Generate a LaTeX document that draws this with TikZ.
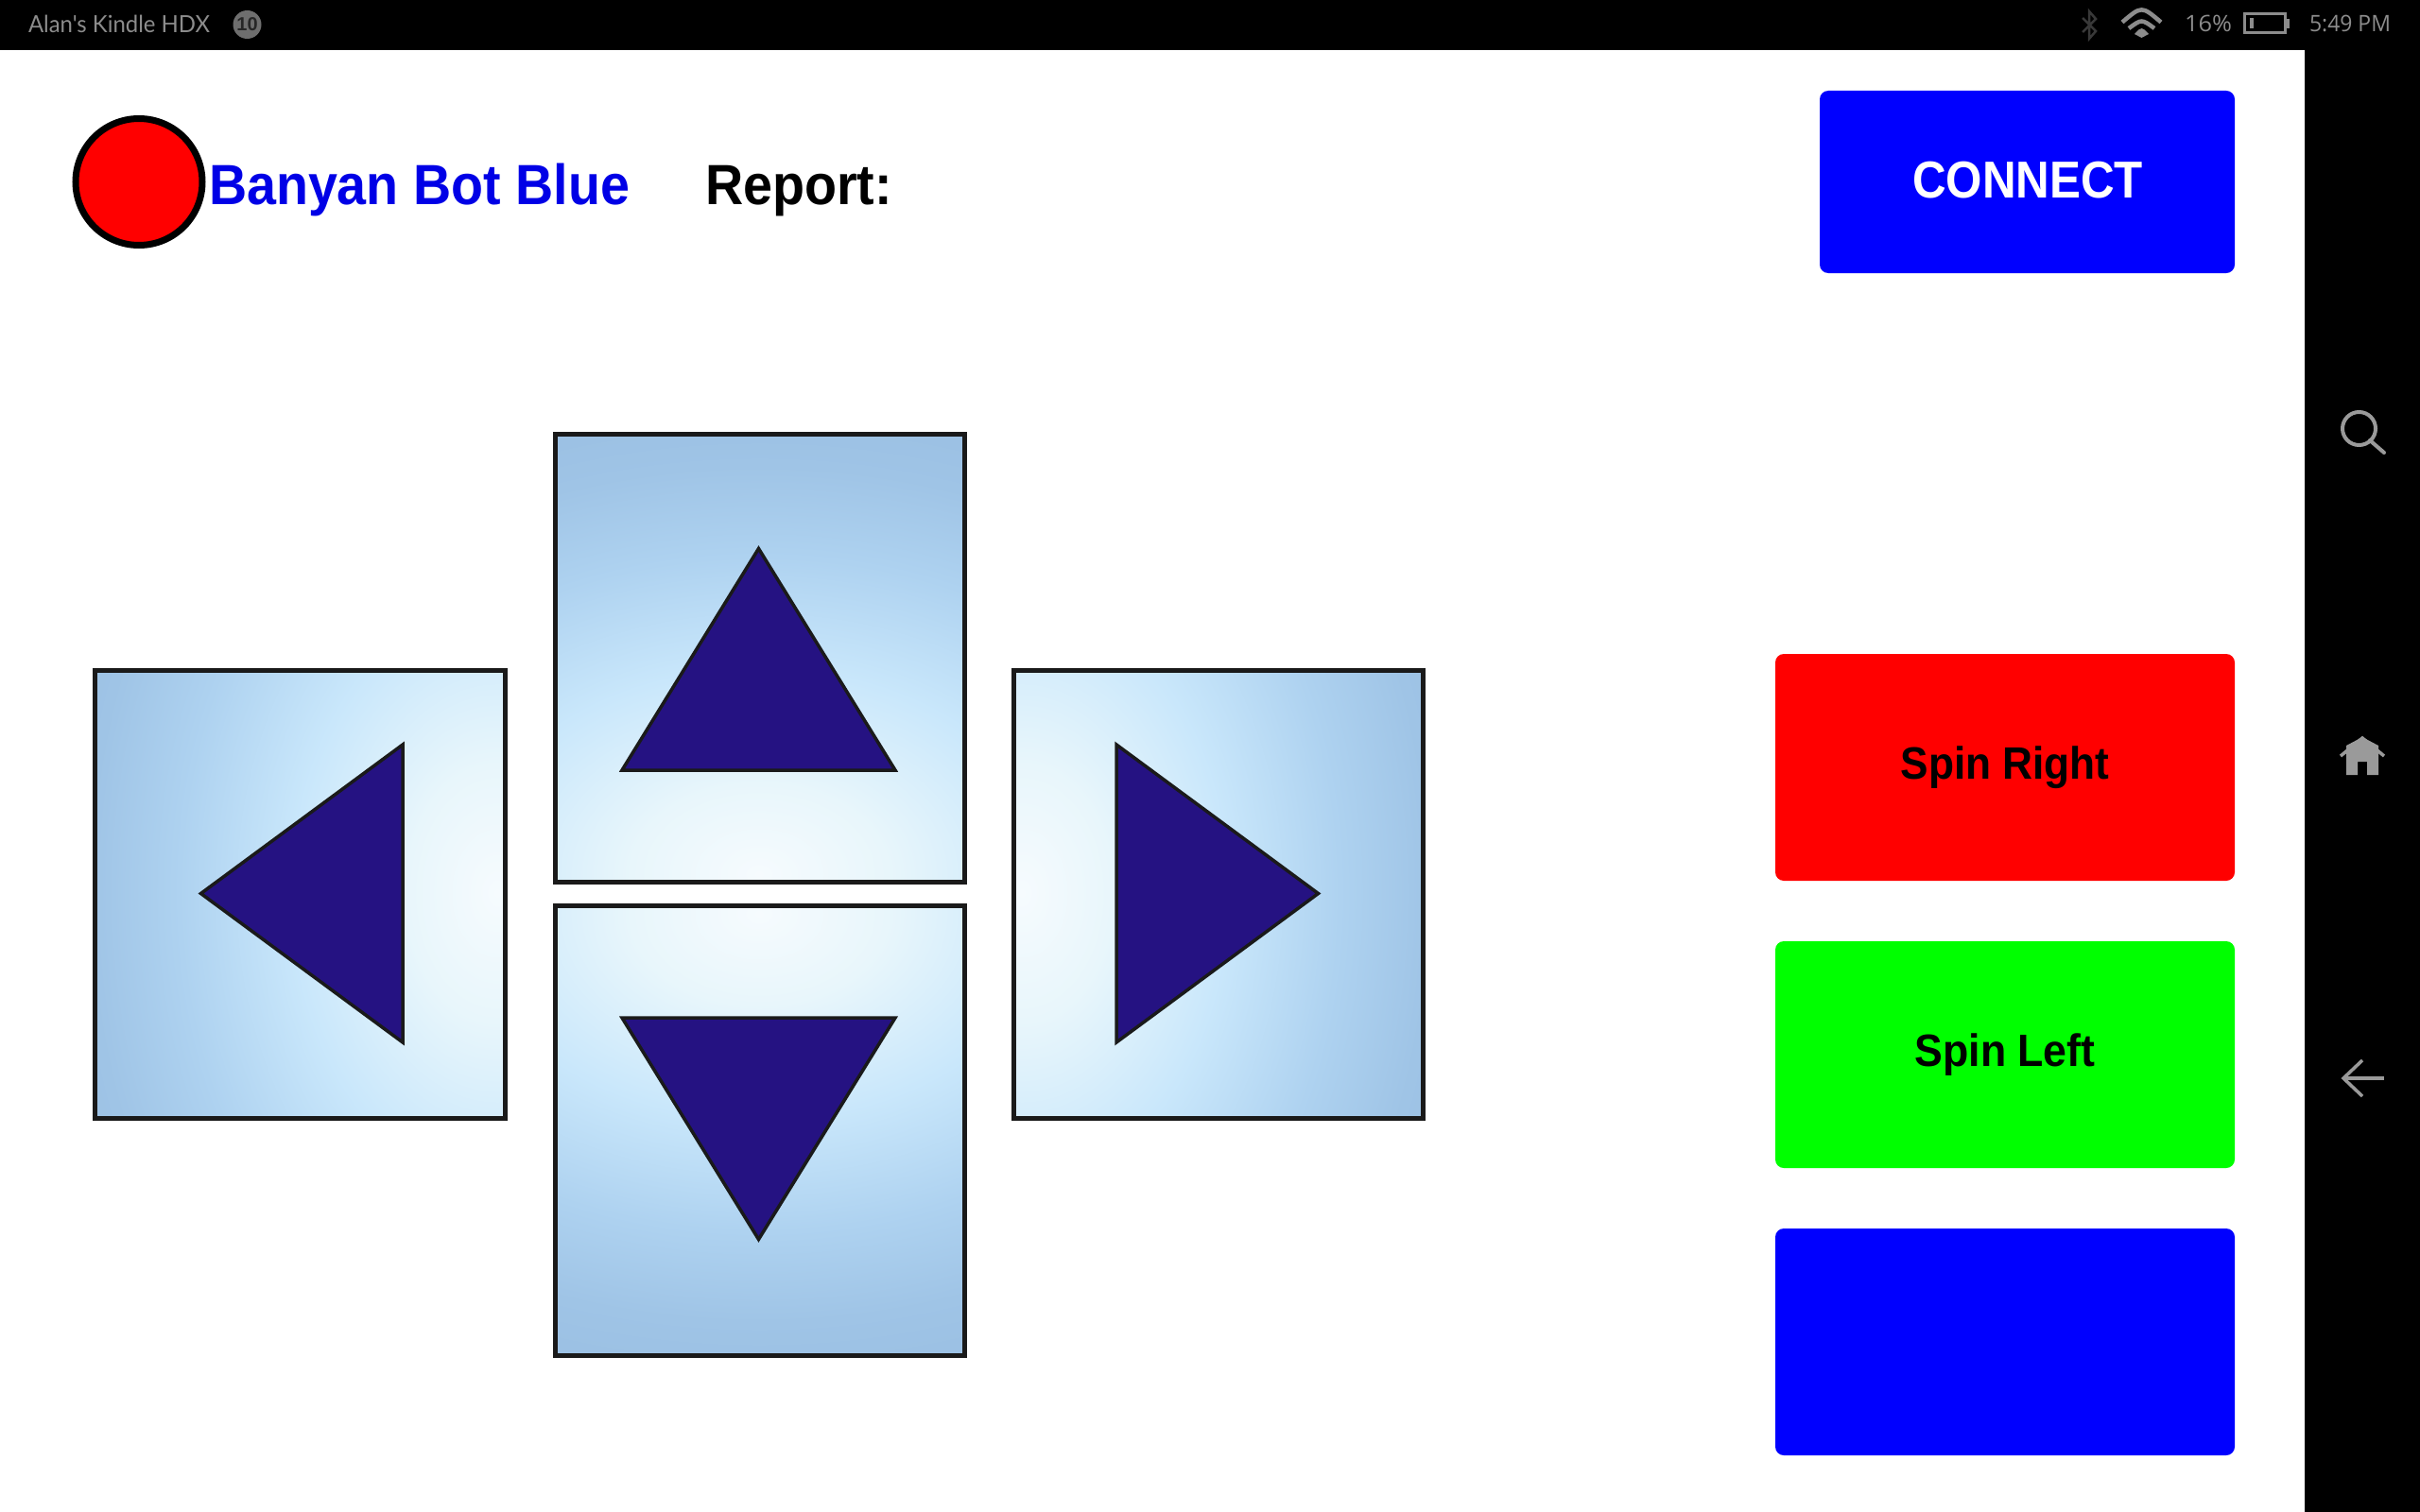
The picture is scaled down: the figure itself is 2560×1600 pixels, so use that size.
\documentclass[tikz,border=0pt]{standalone}
\usepackage{graphicx}
\usepackage{fontspec}
\setmainfont{Liberation Sans}
\newfontfamily\statusfont{Lato}
\newfontfamily\clockfont{Open Sans}
\definecolor{tri}{HTML}{251282}
\definecolor{frame}{HTML}{1A1A1A}
\definecolor{icon}{HTML}{9A9A9A}
\definecolor{stat}{HTML}{8C8C8C}
\definecolor{tb}{HTML}{9CC1E4}
\definecolor{ga}{HTML}{F6FBFE}
\definecolor{gb}{HTML}{E8F6FB}
\definecolor{gc}{HTML}{C9E7FB}
\definecolor{gd}{HTML}{AED2F0}
\definecolor{ge}{HTML}{9FC4E6}
\pgfdeclareradialshading{glow}{\pgfpoint{0bp}{0bp}}{%
 color(0bp)=(ga);
 color(5bp)=(gb);
 color(11.25bp)=(gc);
 color(17.5bp)=(gd);
 color(22.5bp)=(ge);
 color(25bp)=(tb);
 color(50bp)=(tb)}
\newcommand{\fitw}[2]{\resizebox{#1pt}{\height}{#2}}
\tikzset{
 x=1pt,y=-1pt,
 tileframe/.style={draw=frame,line width=5pt},
 trianglemark/.style={draw=frame,line width=3.5pt,fill=tri,line join=miter},
 btn/.style={rounded corners=9pt},
 lab/.style={inner sep=0pt,outer sep=0pt,font=\fontsize{60pt}{60pt}\selectfont\bfseries,anchor=base west},
 stattext/.style={inner sep=0pt,outer sep=0pt,text=stat,anchor=base west},
 glyph/.style={draw=icon,line width=4pt,fill=none}
}
\begin{document}
\begin{tikzpicture}
\useasboundingbox (0,0) rectangle (2560,1600);
% screen
\fill[white] (0,0) rectangle (2560,1600);
\fill[black] (0,0) rectangle (2560,52.7);
\fill[black] (2438,0) rectangle (2560,1600);
% status bar
\node[stattext,font=\statusfont\fontsize{25pt}{25pt}\selectfont] (device) at (30,35) {\fitw{192}{Alan's Kindle HDX}};
\node[circle,fill=black!57,minimum size=30pt,inner sep=0pt] (badge) at (261.5,26) {\fontsize{20pt}{20pt}\selectfont\bfseries\textcolor{black!85}{10}};
\draw[draw=black!78,line width=2.5pt,line join=miter] (2203,19)--(2217,33)--(2210,41)--(2210,12)--(2217,20)--(2203,34);
\begin{scope}[draw=stat,line width=4.5pt,line cap=butt]
\draw (2245,23.5) .. controls (2265.5,6) .. (2286,23.5);
\draw (2252,30) .. controls (2265.5,20) .. (2279,30);
\end{scope}
\fill[stat] (2258,36) .. controls (2265.5,28) .. (2273,36) -- (2265.5,40) -- cycle;
\node[stattext,font=\clockfont\fontsize{24pt}{24pt}\selectfont] (level) at (2311,34) {\fitw{50}{16\%}};
\draw[stat,line width=3pt] (2374.5,14.5) rectangle (2417,35);
\fill[stat] (2417,20) rectangle (2422,30);
\fill[stat] (2380,19) rectangle (2384,30);
\node[stattext,font=\clockfont\fontsize{24pt}{24pt}\selectfont] (clock) at (2443,34) {\fitw{86}{5:49 PM}};
% side bar icons
\draw[glyph] (2495.5,453.5) circle[radius=17.5];
\draw[glyph,line cap=round] (2507,466)--(2522,479);
\fill[icon] (2482,789) -- (2499,780) -- (2516,789) -- (2516,820) -- (2504,820) -- (2504,806) -- (2494,806) -- (2494,820) -- (2482,820) -- cycle;
\draw[icon,line width=3.5pt] (2476,800) -- (2499,781) -- (2522,800);
\draw[icon,line width=3.5pt] (2499,1122) -- (2479,1141) -- (2499,1160);
\draw[icon,line width=3.5pt] (2479,1141) -- (2522,1141);
% record indicator
\node[circle,draw=black,line width=7pt,fill=red,minimum size=134pt,inner sep=0pt] (dot) at (147,192.5) {};
\node[lab,text={rgb,255:red,0;green,0;blue,230}] (name) at (221,216) {\fitw{445}{Banyan Bot Blue}};
\node[lab,text=black] (report) at (746,216) {\fitw{198}{Report:}};
% buttons
\fill[blue,btn] (1925,96) rectangle (2364,289);
\node[lab,font=\fontsize{55pt}{55pt}\selectfont\bfseries,text=white,anchor=base] (connect) at (2145,209) {\fitw{244}{CONNECT}};
\fill[red,btn] (1878,692) rectangle (2364,932);
\node[lab,font=\fontsize{48pt}{48pt}\selectfont\bfseries,anchor=base] (spinr) at (2121,824.5) {\fitw{221}{Spin Right}};
\fill[green,btn] (1878,996) rectangle (2364,1236);
\node[lab,font=\fontsize{48pt}{48pt}\selectfont\bfseries,anchor=base] (spinl) at (2121,1128.5) {\fitw{191}{Spin Left}};
\fill[blue,btn] (1878,1300) rectangle (2364,1540);
% tiles
\fill[tb] (587,459) rectangle (1020,933);
\begin{scope}
\clip (587,459) rectangle (1020,933);
\shade[shading=glow] (803,925) ellipse[x radius=680,y radius=480];
\end{scope}
\fill[tb] (587,958) rectangle (1020,1434);
\begin{scope}
\clip (587,958) rectangle (1020,1434);
\shade[shading=glow] (803,967) ellipse[x radius=680,y radius=480];
\end{scope}
\fill[tb] (100.5,709) rectangle (534,1183);
\begin{scope}
\clip (100.5,709) rectangle (534,1183);
\shade[shading=glow] (526,945) ellipse[x radius=480,y radius=680];
\end{scope}
\fill[tb] (1072,709) rectangle (1505,1183);
\begin{scope}
\clip (1072,709) rectangle (1505,1183);
\shade[shading=glow] (1081,945) ellipse[x radius=480,y radius=680];
\end{scope}
\draw[tileframe] (587,459) rectangle (1020,933);
\draw[tileframe] (587,958) rectangle (1020,1434);
\draw[tileframe] (100.5,709) rectangle (534,1183);
\draw[tileframe] (1072,709) rectangle (1505,1183);
% arrows
\draw[trianglemark] (802.5,580.5) -- (658,815) -- (947,815) -- cycle;
\draw[trianglemark] (802.5,1311.5) -- (658,1077) -- (947,1077) -- cycle;
\draw[trianglemark] (212.5,945.5) -- (426,788) -- (426,1103) -- cycle;
\draw[trianglemark] (1394.5,945.5) -- (1181,788) -- (1181,1103) -- cycle;
\end{tikzpicture}
\end{document}
